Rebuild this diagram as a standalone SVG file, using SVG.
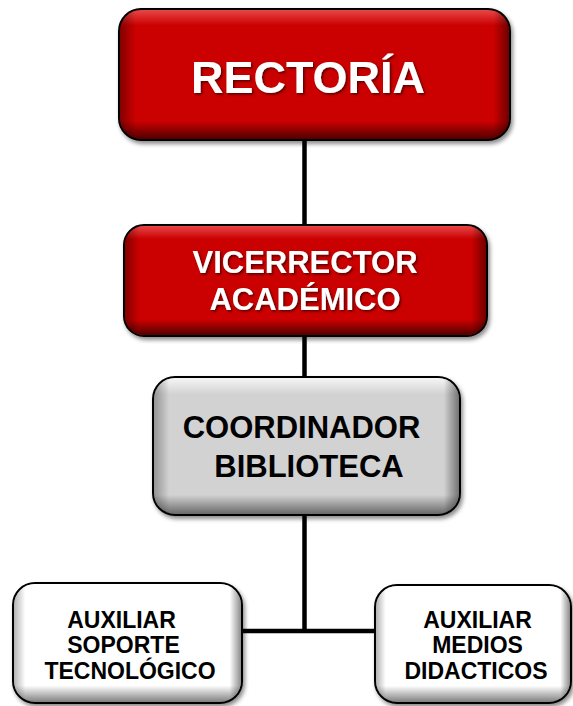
<svg xmlns="http://www.w3.org/2000/svg" width="573" height="706" viewBox="0 0 573 706">
<style>
.box{stroke:#000;stroke-width:2}
.red{fill:#CB0606}
.gray{fill:#D2D2D2}
.white{fill:#FFFFFF}
.t{font-family:"Liberation Sans",Arial,sans-serif;font-weight:bold;text-anchor:middle}
.tw{fill:#FFFFFF;filter:url(#ts)}
.tb{fill:#000000}
.conn{stroke:#000;stroke-width:4.5;fill:none}
</style>
<defs>
<filter id="ds" x="-10%" y="-10%" width="125%" height="130%">
<feDropShadow dx="2" dy="3" stdDeviation="2" flood-color="#000" flood-opacity="0.45"/>
</filter>
<filter id="ts" x="-10%" y="-20%" width="120%" height="150%">
<feDropShadow dx="1.5" dy="1.5" stdDeviation="1" flood-color="#3a0000" flood-opacity="0.8"/>
</filter>
<linearGradient id="vRed" x1="0" y1="0" x2="0" y2="1">
<stop offset="0" stop-color="#FF8080" stop-opacity="0.55"/>
<stop offset="0.12" stop-color="#FF8080" stop-opacity="0"/>
<stop offset="0.86" stop-color="#000" stop-opacity="0"/>
<stop offset="1" stop-color="#000" stop-opacity="0.6"/>
</linearGradient>
<linearGradient id="hRed" x1="0" y1="0" x2="1" y2="0">
<stop offset="0" stop-color="#000" stop-opacity="0.35"/>
<stop offset="0.04" stop-color="#000" stop-opacity="0"/>
<stop offset="0.96" stop-color="#000" stop-opacity="0"/>
<stop offset="1" stop-color="#000" stop-opacity="0.45"/>
</linearGradient>
<linearGradient id="vGray" x1="0" y1="0" x2="0" y2="1">
<stop offset="0" stop-color="#FFF" stop-opacity="0.8"/>
<stop offset="0.12" stop-color="#FFF" stop-opacity="0"/>
<stop offset="0.86" stop-color="#000" stop-opacity="0"/>
<stop offset="1" stop-color="#000" stop-opacity="0.5"/>
</linearGradient>
<linearGradient id="hGray" x1="0" y1="0" x2="1" y2="0">
<stop offset="0" stop-color="#000" stop-opacity="0.3"/>
<stop offset="0.05" stop-color="#000" stop-opacity="0"/>
<stop offset="0.95" stop-color="#000" stop-opacity="0"/>
<stop offset="1" stop-color="#000" stop-opacity="0.45"/>
</linearGradient>
</defs>

<g id="connectors">
<line class="conn" x1="304.5" y1="140" x2="304.5" y2="631"/>
<line class="conn" x1="242" y1="631" x2="375" y2="631"/>
</g>

<g id="rectoria">
<rect class="box red" x="119" y="9" width="391" height="131" rx="22" filter="url(#ds)"/>
<rect x="120" y="10" width="389" height="129" rx="21" fill="url(#vRed)"/>
<rect x="120" y="10" width="389" height="129" rx="21" fill="url(#hRed)"/>
<text class="t tw" x="308" y="93" font-size="45">RECTORÍA</text>
</g>

<g id="vicerrector">
<rect class="box red" x="124" y="225" width="363" height="111" rx="20" filter="url(#ds)"/>
<rect x="125" y="226" width="361" height="109" rx="19" fill="url(#vRed)"/>
<rect x="125" y="226" width="361" height="109" rx="19" fill="url(#hRed)"/>
<text class="t tw" x="305" y="273" font-size="31">VICERRECTOR</text>
<text class="t tw" x="305" y="310" font-size="31">ACADÉMICO</text>
</g>

<g id="coordinador">
<rect class="box gray" x="153" y="377" width="307" height="138" rx="22" filter="url(#ds)"/>
<rect x="154" y="378" width="305" height="136" rx="21" fill="url(#vGray)"/>
<rect x="154" y="378" width="305" height="136" rx="21" fill="url(#hGray)"/>
<text class="t tb" x="301.5" y="438" font-size="31">COORDINADOR</text>
<text class="t tb" x="309" y="477" font-size="31">BIBLIOTECA</text>
</g>

<g id="auxiliar-soporte">
<rect class="box white" x="13" y="583" width="229" height="120" rx="22" filter="url(#ds)"/>
<rect x="14" y="584" width="227" height="118" rx="21" fill="url(#vGray)"/>
<rect x="14" y="584" width="227" height="118" rx="21" fill="url(#hGray)"/>
<text class="t tb" x="121.5" y="628" font-size="23">AUXILIAR</text>
<text class="t tb" x="123.5" y="653" font-size="23">SOPORTE</text>
<text class="t tb" x="130" y="679" font-size="23">TECNOLÓGICO</text>
</g>

<g id="auxiliar-medios">
<rect class="box white" x="375" y="585" width="196" height="118" rx="22" filter="url(#ds)"/>
<rect x="376" y="586" width="194" height="116" rx="21" fill="url(#vGray)"/>
<rect x="376" y="586" width="194" height="116" rx="21" fill="url(#hGray)"/>
<text class="t tb" x="477.5" y="628" font-size="23">AUXILIAR</text>
<text class="t tb" x="477.5" y="653" font-size="23">MEDIOS</text>
<text class="t tb" x="476" y="679" font-size="23">DIDACTICOS</text>
</g>
</svg>
